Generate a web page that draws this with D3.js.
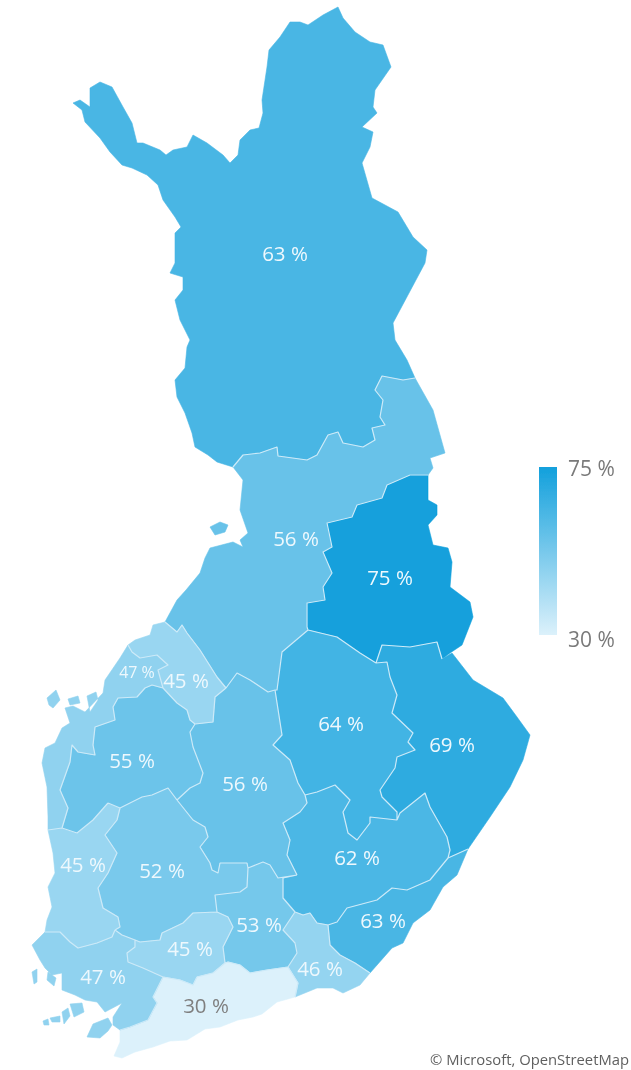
<!DOCTYPE html>
<html>
<head>
<meta charset="utf-8">
<script src="https://cdn.jsdelivr.net/npm/d3@7"></script>
<style>
  html, body { margin: 0; background: #fff; }
  text { font-family: "Open Sans", "Noto Sans", sans-serif; }
</style>
</head>
<body>
<div id="chart"></div>
<script>
// valeurs
const regionNames = ["Lappi", "Pohjois-Pohjanmaa", "Kainuu", "Pohjois-Savo", "Pohjois-Karjala", "Etelä-Savo", "Etelä-Karjala", "Kymenlaakso", "Päijät-Häme", "Keski-Suomi", "Pirkanmaa", "Kanta-Häme", "Uusimaa", "Varsinais-Suomi", "Satakunta", "Etelä-Pohjanmaa", "Keski-Pohjanmaa", "Pohjanmaa"];
const regionValues = [63, 56, 75, 64, 69, 62, 63, 46, 53, 56, 52, 45, 30, 47, 45, 55, 45, 47];
const legendValues = [30, 75];

// contours (unités carte), bordures partagées entre régions
const coastLappi = [[233,467],[217,462],[208,455],[195,447],[192,433],[185,413],[177,397],[175,380],[185,368],[187,347],[190,340],[180,320],[175,300],[183,290],[183,277],[170,273],[175,263],[175,233],[181,227],[175,217],[163,200],[158,185],[147,175],[132,168],[122,165],[110,152],[100,138],[85,122],[82,110],[73,103],[80,100],[90,107],[90,88],[100,82],[112,87],[123,107],[132,123],[137,143],[143,143],[160,150],[166,155],[173,150],[187,147],[193,135],[207,143],[223,155],[230,163],[238,155],[240,140],[250,130],[259,128],[263,113],[262,100],[267,67],[269,50],[280,37],[290,22],[300,22],[308,25],[323,15],[338,7],[343,18],[355,32],[370,42],[383,45],[391,67],[375,90],[373,107],[377,113],[362,127],[373,132],[370,147],[362,163],[372,198],[398,212],[413,237],[427,250],[425,263],[393,323],[395,340],[407,360],[415,378]];
const bLappiPP = [[415,378],[403,380],[382,376],[375,390],[383,400],[380,417],[385,425],[372,428],[375,440],[363,447],[343,443],[338,432],[328,435],[317,455],[307,460],[278,456],[277,447],[260,453],[243,455],[233,467]];
const coastPPeast = [[415,378],[433,410],[445,453],[430,458],[433,468],[428,475]];
const bPPKainuu = [[428,475],[410,475],[387,485],[382,498],[357,505],[352,517],[327,523],[332,547],[323,552],[332,573],[323,587],[325,600],[307,603],[307,627],[308,630]];
const bPPSavo = [[308,630],[282,652],[277,690],[275,690]];
const bPPKS = [[275,690],[268,692],[250,680],[237,673],[226,688]];
const bPPKP = [[226,688],[217,677],[200,650],[187,633],[182,625],[177,632],[165,622]];
const coastPPwest = [[165,622],[177,600],[186,590],[200,573],[205,558],[210,548],[233,542],[243,547],[240,540],[248,533],[240,510],[243,480],[233,467]];
const coastKainuu = [[428,475],[428,500],[437,505],[437,515],[428,525],[433,545],[448,548],[452,562],[450,587],[470,602],[473,617],[462,645],[450,653],[442,659]];
const bKainuuPK = [[442,659],[437,642],[410,647],[382,645],[376,663]];
const bKainuuSavo = [[376,663],[360,653],[337,637],[308,630]];
const bSavoPK = [[376,663],[387,662],[390,677],[397,695],[392,713],[413,733],[408,742],[415,750],[397,757],[395,768],[380,790],[382,797],[397,812],[397,820]];
const bSavoES = [[397,820],[370,817],[370,823],[357,840],[348,833],[343,812],[350,800],[335,785],[317,792],[305,795]];
const coastPK = [[442,659],[452,653],[473,680],[503,698],[517,717],[530,735],[523,760],[510,787],[490,817],[468,849]];
const bPKEK = [[468,849],[448,858]];
const bPKES = [[448,858],[450,850],[447,837],[430,807],[425,793],[410,805],[400,813],[397,820]];
const bESEK = [[448,858],[430,880],[407,890],[392,888],[377,900],[347,908],[337,922],[328,925]];
const bESKym = [[328,925],[317,923],[310,913],[303,915],[295,912]];
const bESPH = [[295,912],[283,898],[283,878],[297,875]];
const bESKS = [[297,875],[287,855],[290,840],[283,823],[300,812],[307,803],[305,795]];
const coastEK = [[468,849],[457,875],[443,887],[430,910],[413,923],[403,943],[392,948],[370,973]];
const bEKKym = [[370,973],[355,963],[340,955],[330,945],[328,925]];
const coastKym = [[370,973],[360,985],[343,993],[333,988],[317,988],[295,997]];
const bKymUus = [[295,997],[298,983],[288,967]];
const bKymPH = [[288,967],[297,953],[295,943],[283,930],[295,912]];
const bPHUus = [[288,967],[267,970],[250,973],[240,965],[228,962],[225,963]];
const bPHKH = [[225,963],[223,947],[233,927],[228,917],[217,912]];
const bPHPir = [[217,912],[215,895],[240,892],[247,887],[248,868]];
const bPHKS = [[248,868],[263,862],[270,865],[278,878],[297,875]];
const bKSSavo = [[305,795],[298,783],[290,760],[273,745],[282,735],[275,690]];
const bKSPir = [[248,868],[247,863],[220,863],[218,873],[212,870],[210,863],[200,847],[208,837],[205,827],[193,820],[177,800]];
const bKSEP = [[177,800],[190,788],[200,783],[203,773],[193,747],[190,732],[195,724]];
const bKSKP = [[195,724],[213,722],[215,697],[226,688]];
const bPirKH = [[217,912],[193,913],[183,923],[162,933],[160,940],[140,942],[135,940]];
const bPirVS = [[135,940],[122,935],[115,930]];
const bPirSat = [[115,930],[120,927],[118,917],[103,908],[98,888],[108,873],[117,853],[105,835],[117,820],[120,808],[108,803]];
const bPirEP = [[108,803],[120,808],[142,797],[152,795],[168,788],[177,800]];
const bKHUus = [[225,963],[213,973],[197,977],[193,985],[180,980],[163,977]];
const bKHVS = [[163,977],[143,968],[128,962],[127,953],[135,947],[135,940]];
const coastUus = [[295,997],[277,1002],[262,1014],[253,1017],[238,1020],[220,1027],[205,1029],[187,1040],[170,1041],[153,1047],[135,1052],[122,1058],[114,1056],[120,1042],[120,1030]];
const bUusVS = [[120,1030],[130,1027],[148,1020],[157,1003],[153,997],[163,977]];
const coastVS = [[120,1030],[113,1025],[113,1017],[122,1003],[105,1012],[97,1002],[85,1000],[75,995],[62,990],[62,973],[52,975],[45,968],[40,960],[32,945],[45,932]];
const bVSSat = [[45,932],[60,932],[70,942],[78,948],[97,943],[112,937],[115,930]];
const coastSat = [[48,830],[53,853],[55,873],[48,887],[52,907],[47,920],[45,932]];
const bSatEP = [[108,803],[93,820],[77,833],[62,828]];
const bSatPoh = [[62,828],[48,830]];
const bPohEP = [[62,828],[68,808],[60,790],[70,762],[72,745],[78,752],[95,755],[93,745],[95,727],[115,720],[113,707],[118,698],[137,697],[145,688],[152,685],[163,688]];
const bEPKP = [[163,688],[177,703],[187,710],[190,720],[195,724]];
const bKPPoh = [[163,688],[158,670],[168,665],[157,655],[140,658],[132,652],[128,645]];
const coastKP = [[128,645],[135,640],[150,635],[153,625],[165,622]];
const coastPoh = [[128,645],[120,658],[105,680],[103,693],[85,712],[73,706],[65,708],[70,723],[62,728],[55,743],[45,748],[42,763],[47,787],[48,817],[48,830]];

// îles
const hailuoto = [[210,527],[220,522],[228,525],[225,532],[215,535]];
const islesPohjanmaa = [[[47,698],[56,690],[60,700],[53,708],[49,705]], [[68,699],[78,696],[80,703],[70,705]], [[87,696],[96,692],[98,700],[90,712]]];
const islesVS = [[[87,1037],[93,1024],[108,1018],[112,1025],[108,1031],[100,1038]], [[43,1021],[48,1019],[49,1025],[44,1025]], [[50,1018],[60,1016],[60,1022],[52,1022]], [[62,1012],[68,1008],[70,1016],[64,1024]], [[70,1004],[82,1003],[84,1012],[74,1017]], [[32,972],[37,969],[37,982],[34,984]], [[48,972],[56,978],[54,986],[47,980]]];

const rev = (a) => a.slice().reverse();

const regionRings = [
  [coastLappi, bLappiPP],
  [coastPPwest, rev(bLappiPP), coastPPeast, bPPKainuu, bPPSavo, bPPKS, bPPKP],
  [coastKainuu, bKainuuPK, bKainuuSavo, rev(bPPKainuu)],
  [rev(bKainuuSavo), bSavoPK, bSavoES, bKSSavo, rev(bPPSavo)],
  [coastPK, bPKEK, bPKES, rev(bSavoPK), rev(bKainuuPK)],
  [rev(bSavoES), rev(bPKES), bESEK, bESKym, bESPH, bESKS],
  [rev(bPKEK), coastEK, bEKKym, rev(bESEK)],
  [rev(bESKym), rev(bEKKym), coastKym, bKymUus, bKymPH],
  [rev(bESPH), rev(bKymPH), bPHUus, bPHKH, bPHPir, bPHKS],
  [rev(bKSSavo), rev(bESKS), rev(bPHKS), bKSPir, bKSEP, bKSKP, rev(bPPKS)],
  [rev(bKSPir), rev(bPHPir), bPirKH, bPirVS, bPirSat, bPirEP],
  [rev(bPirKH), rev(bPHKH), bKHUus, bKHVS],
  [rev(bKHUus), rev(bPHUus), rev(bKymUus), coastUus, bUusVS],
  [rev(bUusVS), coastVS, bVSSat, rev(bPirVS), rev(bKHVS)],
  [coastSat, bVSSat, bPirSat, bSatEP, bSatPoh],
  [rev(bKSEP), rev(bPirEP), bSatEP, bPohEP, bEPKP],
  [rev(bKSKP), rev(bEPKP), bKPPoh, coastKP, rev(bPPKP)],
  [coastPoh, rev(bSatPoh), bPohEP, bKPPoh],
];
const regionIslands = { 1: [hailuoto], 13: islesVS, 17: islesPohjanmaa };

// frontières intérieures
const innerBorders = [bLappiPP, bPPKainuu, bPPSavo, bPPKS, bPPKP, bKainuuPK, bKainuuSavo, bSavoPK, bSavoES, bPKEK, bPKES, bESEK, bESKym, bESPH, bESKS, bEKKym, bKymUus, bKymPH, bPHUus, bPHKH, bPHPir, bPHKS, bKSSavo, bKSPir, bKSEP, bKSKP, bPirKH, bPirVS, bPirSat, bPirEP, bKHUus, bKHVS, bUusVS, bVSSat, bSatEP, bSatPoh, bPohEP, bEPKP, bKPPoh];

// position des étiquettes, mêmes unités que les contours
const labelAnchors = [[285,254],[296,539],[390,578],[341,724],[452,745],[357,858],[383,921],[320,969],[259,925],[245,784],[162,871],[190,949],[206,1006],[103,977],[83,865],[132,761],[186,681],[137,672]];

const width = 631;
const height = 1070;

var svg = d3.select("#chart").append("svg").attr("width", width).attr("height", height);

var defs = svg.append("defs");
defs.append("filter").attr("id", "soft").append("feGaussianBlur").attr("stdDeviation", 0.6);

// couleurs
var color = d3.scaleLinear().domain(legendValues).range(["#dcf1fb", "#12a0dc"]);

var projection = d3.geoIdentity();
var path = d3.geoPath(projection);

const features = regionNames.map(function (name, i) {
  const ring = regionRings[i].flat();
  const polygons = [[ring.concat([ring[0]])]];
  (regionIslands[i] || []).forEach(function (isle) {
    polygons.push([isle.concat([isle[0]])]);
  });
  return {
    type: "Feature",
    properties: { name: name, value: regionValues[i], anchor: labelAnchors[i] },
    geometry: { type: "MultiPolygon", coordinates: polygons },
  };
});

var map = svg.append("g").attr("filter", "url(#soft)");

map
  .selectAll(".region")
  .data(features)
  .enter()
  .append("path")
  .attr("class", "region")
  .attr("d", path)
  .attr("fill", (d) => color(d.properties.value))
  .attr("stroke", (d) => color(d.properties.value))
  .attr("stroke-width", 0.6);

map
  .append("path")
  .datum({ type: "MultiLineString", coordinates: innerBorders })
  .attr("d", path)
  .attr("fill", "none")
  .attr("stroke", "#cdeaf8")
  .attr("stroke-width", 1.2)
  .attr("stroke-linejoin", "round");

// étiquettes
map
  .selectAll(".label")
  .data(features)
  .enter()
  .append("text")
  .attr("class", "label")
  .attr("x", (d) => projection(d.properties.anchor)[0])
  .attr("y", (d) => projection(d.properties.anchor)[1])
  .attr("dy", "0.36em")
  .attr("text-anchor", "middle")
  .attr("font-size", (d) => (d.properties.name == "Pohjanmaa" ? 16 : 20.5))
  .attr("fill", (d) => (d.properties.value <= 30 ? "#7f7f7f" : "#eef8fd"))
  .text((d) => d.properties.value + " %");

// légende
var gradient = defs.append("linearGradient").attr("id", "legend-gradient").attr("x1", 0).attr("x2", 0).attr("y1", 1).attr("y2", 0);
gradient.selectAll("stop").data(legendValues).enter().append("stop")
  .attr("offset", (d, i) => i)
  .attr("stop-color", (d) => color(d));

var legendScale = d3.scaleLinear().domain(legendValues).range([635, 467]);
var legend = svg.append("g").attr("filter", "url(#soft)");
legend.append("rect")
  .attr("x", 539)
  .attr("y", legendScale(75))
  .attr("width", 18)
  .attr("height", legendScale(30) - legendScale(75))
  .attr("fill", "url(#legend-gradient)");

var legendAxis = d3.axisRight(d3.scaleLinear().domain(legendValues).range([640, 469]))
  .tickValues(legendValues)
  .tickSize(0)
  .tickPadding(0)
  .tickFormat((d) => d + " %");
legend.append("g")
  .attr("transform", "translate(568,0)")
  .call(legendAxis)
  .call((g) => g.select(".domain").remove())
  .call((g) => g.selectAll("text").attr("font-size", 21).attr("font-family", "\"Open Sans\", sans-serif").attr("fill", "#7a7a7a"));

svg.append("text")
  .attr("x", 629)
  .attr("y", 1065)
  .attr("text-anchor", "end")
  .attr("font-size", 14.8)
  .attr("fill", "#5f5f5f")
  .attr("filter", "url(#soft)")
  .text("© Microsoft, OpenStreetMap");
</script>
</body>
</html>
